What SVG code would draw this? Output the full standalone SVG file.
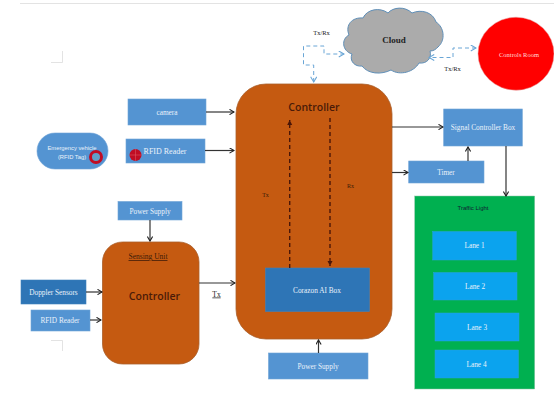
<svg xmlns="http://www.w3.org/2000/svg" width="554" height="396" viewBox="0 0 554 396">
<style>
.s{font-family:"Liberation Serif",serif;text-anchor:middle}
.w{fill:#eaf2fa;font-size:7.300px}
.e{fill:#eaf2fa;font-size:5.800px;font-family:"Liberation Sans",sans-serif;text-anchor:middle}
.d{fill:#222;font-size:6.500px}
.c{font-family:"Open Sans","Liberation Sans",sans-serif;font-weight:600;fill:#4a1a08;text-anchor:middle;font-size:10.500px}
.b{fill:#5494d2;stroke:#6fa3d6;stroke-width:.6}
.k{fill:#2e75b6;stroke:#3f81bd;stroke-width:.6}
.l{fill:#0ba3ee;stroke:#2a9fdc;stroke-width:.5}
.o{fill:#c55a11;stroke:#a9602c;stroke-width:.8}
.a{fill:none;stroke:#333;stroke-width:1.200;marker-end:url(#h)}
.t{fill:none;stroke:#4a1608;stroke-width:1.400;stroke-dasharray:4 3;marker-end:url(#r)}
.q{fill:none;stroke:#6aa6d6;stroke-width:1;stroke-dasharray:4 3}
.m{fill:none;stroke:#dcdcdc;stroke-width:.8}
</style>
<defs>
<marker id="h" viewBox="0 0 8 8" refX="7" refY="4" markerWidth="6" markerHeight="6" markerUnits="userSpaceOnUse" orient="auto"><path d="M1 .5L7 4L1 7.500" fill="none" stroke="#222" stroke-width="1.500"/></marker>
<marker id="r" viewBox="0 0 8 8" refX="7" refY="4" markerWidth="6" markerHeight="6" markerUnits="userSpaceOnUse" orient="auto"><path d="M0 .5L7 4L0 7.500z" fill="#4a1608"/></marker>
<marker id="p" viewBox="0 0 8 8" refX="7" refY="4" markerWidth="7" markerHeight="7" markerUnits="userSpaceOnUse" orient="auto-start-reverse"><path d="M1 .5L7 4L1 7.500" fill="none" stroke="#6aa6d6" stroke-width="1.200"/></marker>
</defs>
<rect width="554" height="396" fill="#fff"/>
<path class="m" d="M20 3.500H554M51 62.500H62.500V51M51 340.500H62.500V351"/>
<g id="main-controller"><rect class="o" x="236" y="84" width="156" height="255" rx="30"/><text class="c" x="314" y="111">Controller</text></g>
<g id="sensing-unit"><rect class="o" x="102.500" y="242" width="96.500" height="122" rx="20"/><text class="s" x="148" y="259" font-size="7.500" fill="#3a1a08" text-decoration="underline">Sensing Unit</text><text class="c" x="154.500" y="300">Controller</text></g>
<g id="camera"><rect class="b" x="128" y="99" width="78" height="26"/><text class="s w" x="167" y="115">camera</text></g>
<g id="rfid-reader-top"><rect class="b" x="126" y="139" width="79" height="24"/><circle cx="135.500" cy="155" r="6" fill="#c00d24"/><path d="M129.500 155h12M135.500 149v12" stroke="#e0606a" stroke-width=".5"/><text class="s" x="165" y="153.500" font-size="8" fill="#eaf2fa">RFID Reader</text></g>
<g id="emergency-vehicle"><rect class="b" x="37" y="133" width="71" height="36" rx="18"/><text class="e" x="72" y="150">Emergency vehicle</text><text class="e" x="72" y="158.500">(RFID Tag)</text><circle cx="96" cy="157" r="5.500" fill="#5fa0c8" stroke="#c00d24" stroke-width="3"/></g>
<g id="power-supply-top"><rect class="b" x="118" y="201.500" width="64" height="18.500"/><text class="s w" x="150" y="213.500">Power Supply</text></g>
<g id="doppler-sensors"><rect class="k" x="21" y="280" width="65" height="24"/><text class="s w" x="53.500" y="295">Doppler Sensors</text></g>
<g id="rfid-reader-bottom"><rect class="b" x="31" y="310" width="59" height="21"/><text class="s w" x="60" y="323">RFID Reader</text></g>
<g id="corazon"><rect class="k" x="265.500" y="268" width="104" height="43.500"/><text class="s w" x="317" y="292.500">Corazon AI Box</text></g>
<g id="power-supply-bottom"><rect class="b" x="268.500" y="353" width="99.500" height="26"/><text class="s w" x="318" y="369">Power Supply</text></g>
<g id="cloud"><path d="M352 54C342 51 341 39 349 35C345 25 352 17 363 18C367 9 380 7 388 13C393 7 405 6 412 13C421 9 433 12 436 22C444 27 446 40 438 47C436 49 434 51 430 51C432 58 427 64 419 63C414 72 400 76 391 70C381 75 368 74 362 66C355 67 349 61 352 54Z" fill="#ababab" stroke="#5f8fb8" stroke-width="1"/><text x="394" y="42.500" text-anchor="middle" font-family="Liberation Serif,serif" font-weight="700" font-size="9" fill="#222">Cloud</text></g>
<g id="controls-room"><ellipse cx="516" cy="53.700" rx="38" ry="36.500" fill="#f00" stroke="#e4a0a0" stroke-width=".5"/><text class="s" x="519" y="56.500" font-size="6.500" fill="#ffdcdc">Controls Room</text></g>
<g id="signal-controller"><rect class="b" x="443.700" y="109" width="78.600" height="37"/><text class="s w" x="483" y="130">Signal Controller Box</text></g>
<g id="timer"><rect class="b" x="408.700" y="161" width="75.300" height="22"/><text class="s w" x="446" y="175">Timer</text></g>
<g id="traffic-light"><rect x="414.700" y="196" width="120" height="193" fill="#00b050" stroke="#8cc6a8" stroke-width=".5"/><text x="473" y="210" text-anchor="middle" font-family="Liberation Sans,sans-serif" font-size="6" fill="#123">Traffic Light</text></g>
<g id="lane-1"><rect class="l" x="432.700" y="231.500" width="83.600" height="28.500"/><text class="s w" x="474.500" y="248">Lane 1</text></g>
<g id="lane-2"><rect class="l" x="433.700" y="272.500" width="83.300" height="27.500"/><text class="s w" x="475" y="289">Lane 2</text></g>
<g id="lane-3"><rect class="l" x="435" y="313" width="84" height="28"/><text class="s w" x="477" y="330">Lane 3</text></g>
<g id="lane-4"><rect class="l" x="435" y="350" width="83.500" height="28"/><text class="s w" x="476.500" y="367">Lane 4</text></g>
<g id="connectors">
<path class="a" d="M206 112H234"/>
<path class="a" d="M205 150.500H234"/>
<path class="a" d="M150 220V241"/>
<path class="a" d="M86 292H102"/>
<path class="a" d="M90 320H101"/>
<path class="a" d="M199 283H235"/>
<path class="a" d="M318.500 353V340"/>
<path class="a" d="M392 127H443"/>
<path class="a" d="M392 172.500H408"/>
<path class="a" d="M468 161V147"/>
<path class="a" d="M506 146V196"/>
<path class="t" d="M289.700 268V120"/>
<path class="t" d="M330 118V266"/>
<path class="q" d="M313.700 82V65H303.500V46H324V54H344" marker-start="url(#p)" marker-end="url(#p)"/>
<path class="q" d="M476 48H453V57.500H429" marker-start="url(#p)" marker-end="url(#p)"/>
</g>
<g id="labels">
<text class="s d" x="321.500" y="34.500">Tx/Rx</text>
<text class="s d" x="452.500" y="70.500">Tx/Rx</text>
<text class="s" x="216.500" y="296.500" font-size="7.500" fill="#222" text-decoration="underline">Tx</text>
<text class="s" x="265.500" y="197" font-size="6" fill="#3a1a08">Tx</text>
<text class="s" x="350.500" y="188" font-size="6" fill="#3a1a08">Rx</text>
</g>
</svg>
